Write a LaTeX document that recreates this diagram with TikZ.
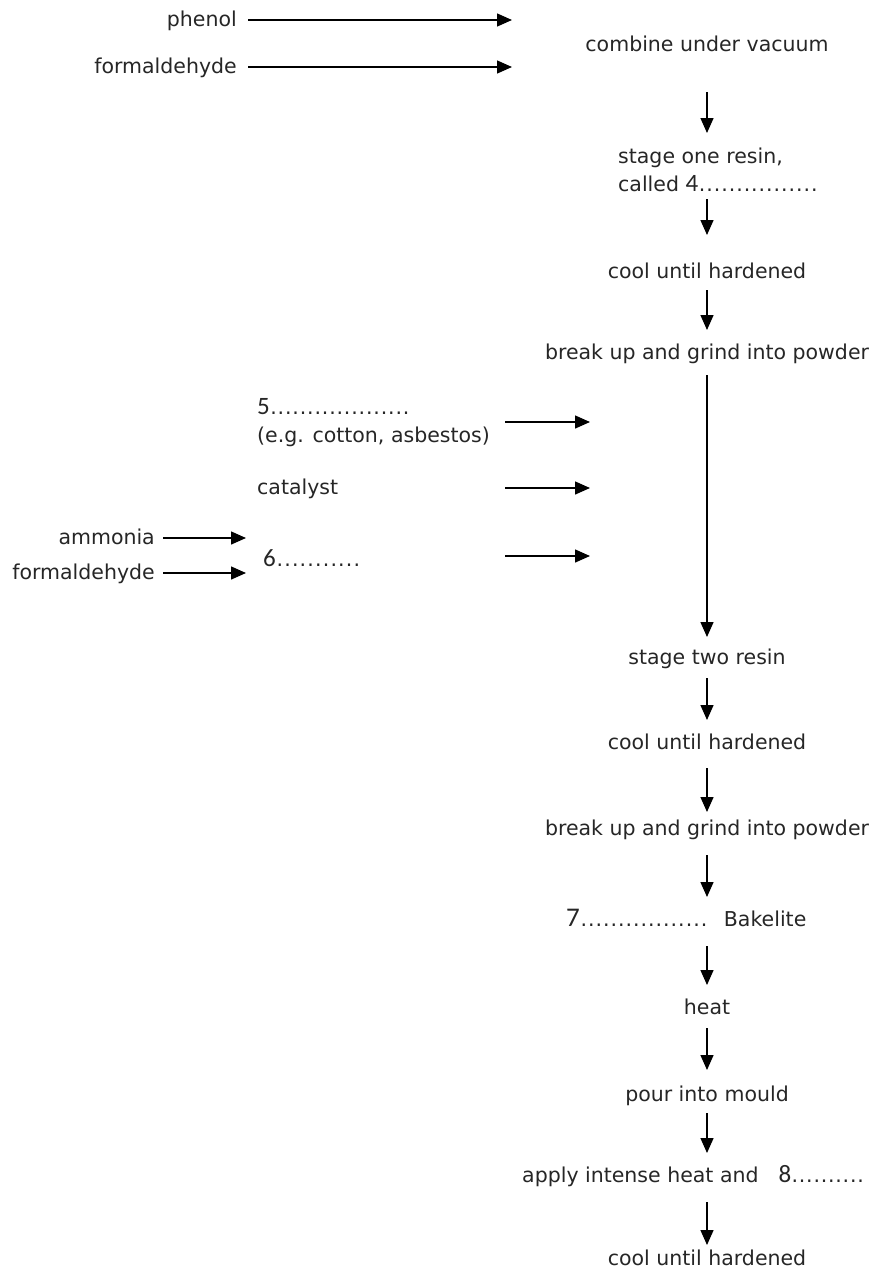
\documentclass[tikz,border=0pt]{standalone}
\usepackage{fontspec}
\setmainfont{DejaVu Sans}
\newfontfamily\numf{Carlito}
\usetikzlibrary{arrows.meta}
\newcommand\blank[1]{\hbox to #1{\xleaders\hbox to 7.3pt{\hss.\hss}\hfill}}
\newcommand\num[2][25]{{\numf\fontsize{#1}{22}\selectfont #2}}
\begin{document}
\begin{tikzpicture}[x=1pt,y=-1pt,
  every node/.style={font=\fontsize{20.5}{28}\selectfont, text=black!85, inner sep=0pt},
  arr/.style={draw=black, line width=1.4pt, -{Triangle[length=15pt,width=13pt]}},
  lbl/.style={anchor=base},
  lft/.style={anchor=base west},
  rgt/.style={anchor=base east}]
\useasboundingbox (0,0) rectangle (874,1277);
% inputs at top
\node[rgt] (phenol) at (237,26) {phenol};
\node[rgt] (form1) at (237,73) {formaldehyde};
\coordinate (topin) at (512,0);
\coordinate (topout) at (248,0);
\node[lbl] (comb) at (707,51) {combine under vacuum};
% main column
\node[lft, align=left] (s1) at (618,191) {stage one resin,\\called \num{4}\blank{120pt}};
\node[lbl] (cool1) at (707,278) {cool until hardened};
\node[lbl] (brk1) at (707,359) {break up and grind into powder};
\node[lbl] (s2) at (707,664) {stage two resin};
\node[lbl] (cool2) at (707,749) {cool until hardened};
\node[lbl] (brk2) at (707,835) {break up and grind into powder};
\node[lft] (bak) at (566,926) {\num[27]{7}\blank{128pt}\hspace{16pt}Bakelite};
\node[lbl] (heat) at (707,1014) {heat};
\node[lbl] (pour) at (707,1101) {pour into mould};
\node[lft] (apply) at (522,1182) {apply intense heat and\hspace{20pt}\num{8}\blank{73pt}};
\node[lbl] (cool3) at (707,1265) {cool until hardened};
% side inputs
\node[lft, align=left] (n5) at (257,442) {\num{5}\blank{140pt}\\(e.g. cotton, asbestos)};
\node[lft] (cat) at (257,494) {catalyst};
\node[lft] (n6) at (263,566) {\num{6}\blank{85pt}};
\node[rgt] (amm) at (155,544) {ammonia};
\node[rgt] (form2) at (155,579) {formaldehyde};
\coordinate (sidestart) at (505,0);
\coordinate (sideend) at (590,0);
\coordinate (smallstart) at (163,0);
\coordinate (smallend) at (246,0);
% connectors
\draw[arr] ([yshift=6pt]phenol.base -| topout) -- ([yshift=6pt]phenol.base -| topin);
\draw[arr] ([yshift=6pt]form1.base -| topout) -- ([yshift=6pt]form1.base -| topin);
\draw[arr] ([yshift=-41pt]comb.base) -- ([yshift=58pt]s1.base -| comb.base);
\draw[arr] ([yshift=-8pt]s1.base -| comb.base) -- ([yshift=43pt]cool1.base);
\draw[arr] ([yshift=-12pt]cool1.base) -- ([yshift=29pt]brk1.base);
\draw[arr] ([yshift=-16pt]brk1.base) -- ([yshift=27pt]s2.base);
\draw[arr] ([yshift=-14pt]s2.base) -- ([yshift=29pt]cool2.base);
\draw[arr] ([yshift=-19pt]cool2.base) -- ([yshift=23pt]brk2.base);
\draw[arr] ([yshift=-20pt]brk2.base) -- ([yshift=29pt]bak.base -| brk2.base);
\draw[arr] ([yshift=-20pt]bak.base -| brk2.base) -- ([yshift=29pt]heat.base);
\draw[arr] ([yshift=-14pt]heat.base) -- ([yshift=31pt]pour.base);
\draw[arr] ([yshift=-12pt]pour.base) -- ([yshift=29pt]apply.base -| pour.base);
\draw[arr] ([yshift=-20pt]apply.base -| pour.base) -- ([yshift=20pt]cool3.base);
\draw[arr] ([yshift=20pt]n5.base -| sidestart) -- ([yshift=20pt]n5.base -| sideend);
\draw[arr] ([yshift=6pt]cat.base -| sidestart) -- ([yshift=6pt]cat.base -| sideend);
\draw[arr] ([yshift=10pt]n6.base -| sidestart) -- ([yshift=10pt]n6.base -| sideend);
\draw[arr] ([yshift=6pt]amm.base -| smallstart) -- ([yshift=6pt]amm.base -| smallend);
\draw[arr] ([yshift=6pt]form2.base -| smallstart) -- ([yshift=6pt]form2.base -| smallend);
\end{tikzpicture}
\end{document}
